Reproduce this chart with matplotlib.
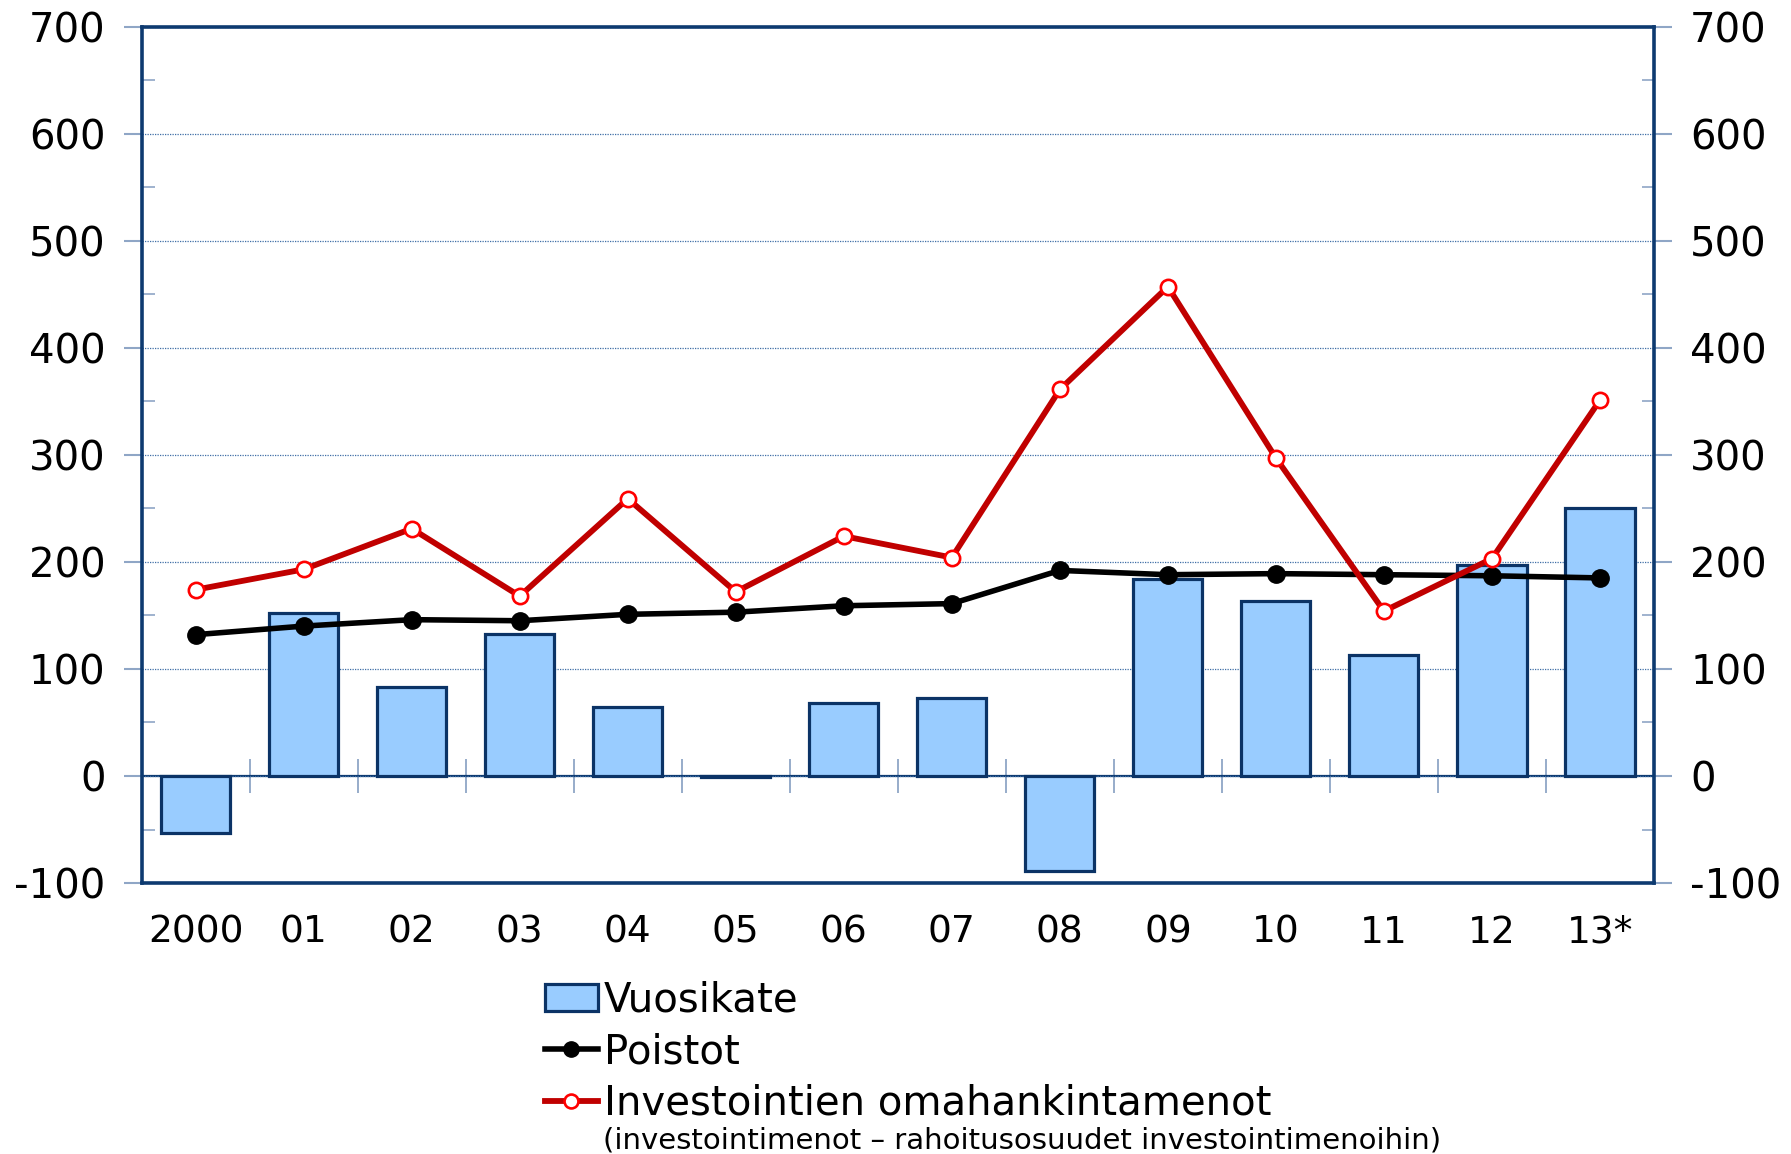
import numpy as np
import matplotlib
matplotlib.use("Agg")
import matplotlib.pyplot as plt
from matplotlib.lines import Line2D
from matplotlib.patches import Patch

# ---- data ----
years = ["2000", "01", "02", "03", "04", "05", "06", "07", "08", "09", "10", "11", "12", "13*"]
vuosikate = [-53, 152, 83, 133, 64, -1, 68, 73, -89, 184, 163, 113, 197, 250]
poistot = [132, 140, 146, 145, 151, 153, 159, 161, 192, 188, 189, 188, 187, 185]
investoinnit = [174, 193, 231, 168, 259, 172, 224, 204, 361, 457, 297, 154, 203, 351]
yticks = [-100, 0, 100, 200, 300, 400, 500, 600, 700]

label_bar = "Vuosikate"
label_poistot = "Poistot"
label_inv = "Investointien omahankintamenot"
subnote = "(investointimenot \u2013 rahoitusosuudet investointimenoihin)"

NAVY = "#0d3a70"
BAR_FILL = "#99ccff"
BAR_EDGE = "#0b3366"
TICKC = "#8fa6c6"
GRIDC = "#3f6ea6"
RED_LINE = "#c00000"
RED_MK = "#ff0000"

plt.rcParams["font.family"] = ["DejaVu Sans"]
plt.rcParams["axes.unicode_minus"] = False

fig = plt.figure(figsize=(17.91, 11.54), dpi=100)
ax = fig.add_axes([0.0791, 0.2348, 0.9235 - 0.0791, 0.977 - 0.2348])

x = np.arange(len(years))
ax.bar(x, vuosikate, width=0.64, color=BAR_FILL, edgecolor=BAR_EDGE, linewidth=2.3, zorder=3)
ax.plot(x, poistot, color="black", lw=4.0, marker="o", ms=12.5, mfc="black", mec="black", zorder=5)
ax.plot(x, investoinnit, color=RED_LINE, lw=4.2, marker="o", ms=11, mfc="white", mec=RED_MK, mew=1.9, zorder=6)

ax.set_xlim(-0.5, len(years) - 0.5)
ax.set_ylim(-100, 700)

# grid
ax.set_yticks(yticks)
ax.set_yticklabels([str(v) for v in yticks])
ax.set_yticks(np.arange(-50, 700, 100), minor=True)
ax.yaxis.grid(True, which="major", color=GRIDC, linestyle=(0, (1, 1)), linewidth=0.9, zorder=1)
ax.set_axisbelow(True)

ax.tick_params(axis="y", which="major", direction="out", length=13, width=1.5, color=TICKC,
               labelsize=29, pad=13, left=True, right=True, labelleft=True, labelright=True)
ax.tick_params(axis="y", which="minor", direction="in", length=9, width=1.2, color=TICKC,
               left=True, right=True)

ax.set_xticks(x)
ax.set_xticklabels(years)
ax.tick_params(axis="x", which="major", length=0, labelsize=27, pad=23)

for s in ax.spines.values():
    s.set_color(NAVY)
    s.set_linewidth(2.6)
    s.set_zorder(10)

# zero line with category separator ticks
sec = ax.secondary_xaxis(0, transform=ax.transData)
sec.set_xticks(np.arange(0.5, len(years) - 1, 1.0))
sec.tick_params(axis="x", direction="inout", length=24, width=1.3, color=TICKC, labelbottom=False)
sec.spines["bottom"].set_color(NAVY)
sec.spines["bottom"].set_linewidth(1.6)

# legend
handles = [
    Patch(facecolor=BAR_FILL, edgecolor=BAR_EDGE, linewidth=2.3),
    Line2D([], [], color="black", lw=4.0, marker="o", ms=11, mfc="black", mec="black"),
    Line2D([], [], color=RED_LINE, lw=4.2, marker="o", ms=10, mfc="white", mec=RED_MK, mew=1.9),
]
leg = fig.legend(handles, [label_bar, label_poistot, label_inv], loc="upper left",
                 bbox_to_anchor=(0.3044, 0.150), frameon=False, fontsize=29,
                 handlelength=1.3, handleheight=0.65, handletextpad=0.15, labelspacing=0.28,
                 borderpad=0, borderaxespad=0)
fig.text(0.3365, 0.0115, subnote, fontsize=21, ha="left", va="center")

fig.savefig("out.png", dpi=100)
